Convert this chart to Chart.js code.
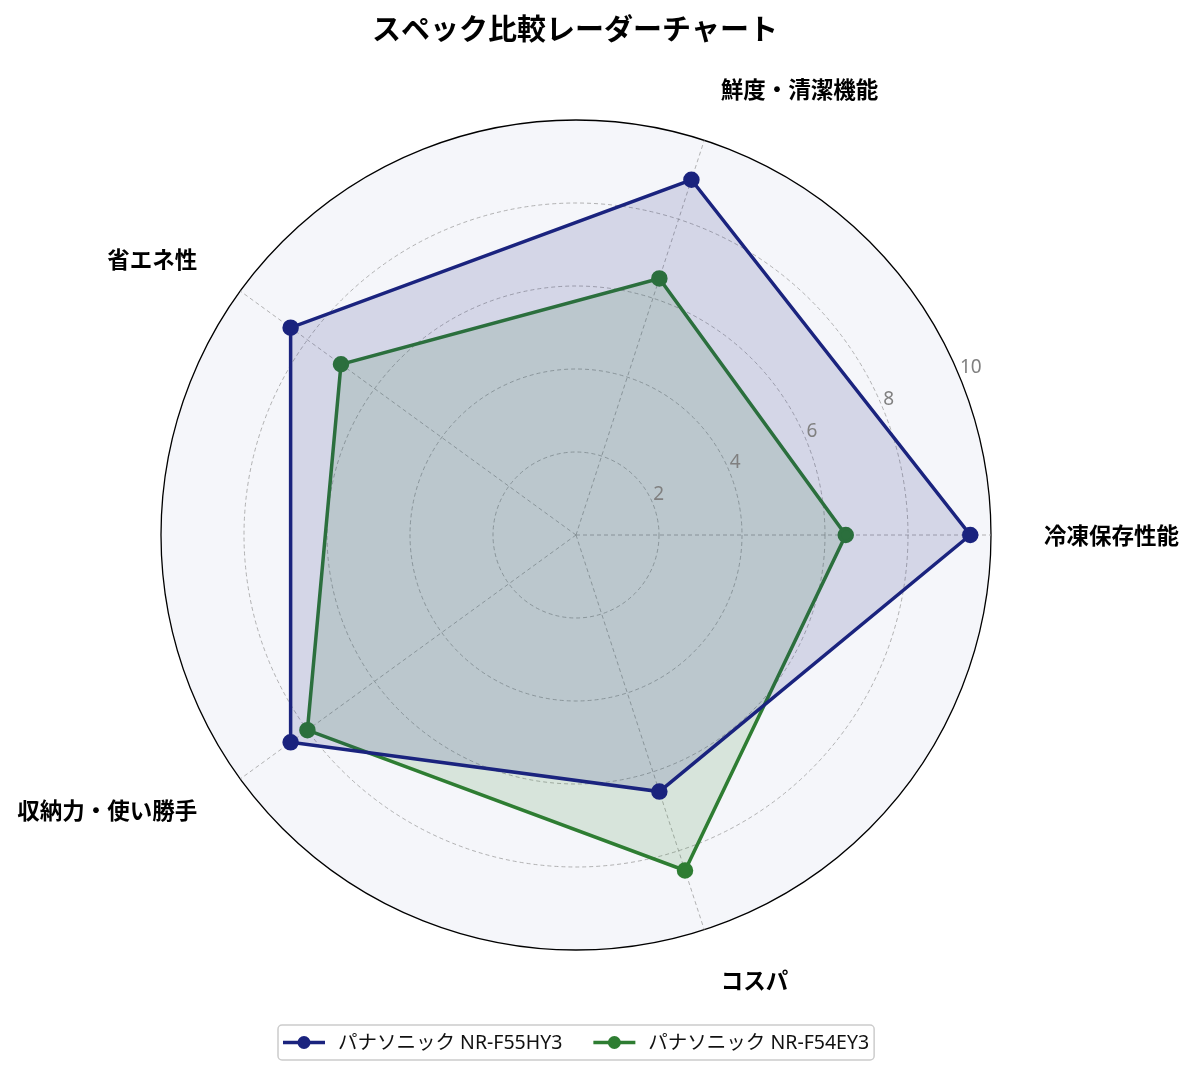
<!DOCTYPE html>
<html lang="ja">
<head>
<meta charset="utf-8">
<title>スペック比較レーダーチャート</title>
<script src="https://cdn.jsdelivr.net/npm/chart.js@4.4.1/dist/chart.umd.min.js"></script>
<style>
  html, body { margin: 0; padding: 0; background: #fff; }
  #wrap { position: relative; width: 1194px; height: 1075px; }
</style>
</head>
<body>
<div id="wrap"><canvas id="radar"></canvas></div>
<script>
// axes in the order they appear counter-clockwise from the right
const categories = ["冷凍保存性能", "鮮度・清潔機能", "省エネ性", "収納力・使い勝手", "コスパ"];
const seriesNames = ["パナソニック NR-F55HY3", "パナソニック NR-F54EY3"];
const f55hy3 = [9.5, 9.0, 8.5, 8.5, 6.5];
const f54ey3 = [6.5, 6.5, 7.0, 8.0, 8.5];
const tickValues = [2, 4, 6, 8, 10];

const NAVY = "#1a237e";
const GREEN = "#2e7d32";
const JP = "'Noto Sans CJK JP', 'Noto Sans', sans-serif";
const LATIN_JP = "'Noto Sans', 'Noto Sans CJK JP', sans-serif";

// Chart.js goes clockwise, so reverse the order after the first axis
function toClockwise(arr) {
  return [arr[0]].concat(arr.slice(1).reverse());
}

const labelsCw = toClockwise(categories);

// background disc, hand drawn tick labels, axis labels, title and legend
const radarDecor = {
  id: "radarDecor",
  beforeDraw(chart) {
    const r = chart.scales.r;
    const ctx = chart.ctx;
    ctx.save();
    ctx.fillStyle = "#f5f6fa";
    ctx.beginPath();
    ctx.arc(r.xCenter, r.yCenter, r.drawingArea, 0, Math.PI * 2);
    ctx.fill();
    ctx.restore();
  },
  afterDatasetsDraw(chart) {
    const r = chart.scales.r;
    const ctx = chart.ctx;
    ctx.save();
    // radial tick labels at 22.5 degrees
    const a = 22.5 * Math.PI / 180;
    ctx.font = "19px " + LATIN_JP;
    ctx.fillStyle = "#808080";
    ctx.textAlign = "left";
    ctx.textBaseline = "alphabetic";
    tickValues.forEach(v => {
      const d = r.getDistanceFromCenterForValue(v);
      ctx.fillText(String(v), r.xCenter + d * Math.cos(a) + 0.5, r.yCenter - d * Math.sin(a) - 3);
    });

    // axis labels outside the circle
    ctx.font = "bold 22.5px " + JP;
    ctx.fillStyle = "#000";
    ctx.textBaseline = "middle";
    const labelR = r.drawingArea * 1.128;
    categories.forEach((c, i) => {
      const ang = i * 2 * Math.PI / categories.length;
      const cx = Math.cos(ang);
      ctx.textAlign = Math.abs(cx) < 0.01 ? "center" : (cx > 0 ? "left" : "right");
      ctx.fillText(c, r.xCenter + labelR * cx, r.yCenter - labelR * Math.sin(ang));
    });

    // title
    ctx.font = "bold 29px " + JP;
    ctx.textAlign = "center";
    ctx.fillText("スペック比較レーダーチャート", 575, 29);

    // legend box
    ctx.font = "19.5px " + LATIN_JP;
    const colors = [NAVY, GREEN];
    const widths = seriesNames.map(n => ctx.measureText(n).width);
    const total = widths.reduce((s, w) => s + w, 0) + 2 * 55 + 31 + 10;
    const bx = Math.round(576 - total / 2);
    const by = 1025, bh = 35;
    ctx.strokeStyle = "#cccccc";
    ctx.lineWidth = 1.5;
    ctx.beginPath();
    ctx.roundRect(bx, by, total, bh, 4);
    ctx.fillStyle = "rgba(255,255,255,0.8)";
    ctx.fill();
    ctx.stroke();
    let x = bx + 5;
    const y = by + bh / 2;
    seriesNames.forEach((n, i) => {
      ctx.strokeStyle = colors[i];
      ctx.lineWidth = 3.5;
      ctx.beginPath();
      ctx.moveTo(x, y);
      ctx.lineTo(x + 42, y);
      ctx.stroke();
      ctx.fillStyle = colors[i];
      ctx.beginPath();
      ctx.arc(x + 21, y, 6.5, 0, Math.PI * 2);
      ctx.fill();
      ctx.fillStyle = "#111";
      ctx.textAlign = "left";
      ctx.fillText(n, x + 55, y + 1);
      x += 55 + widths[i] + 31;
    });
    ctx.restore();
  }
};

new Chart(document.getElementById("radar"), {
  type: "radar",
  data: {
    labels: labelsCw,
    datasets: [
      {
        label: seriesNames[0],
        data: toClockwise(f55hy3),
        borderColor: NAVY,
        backgroundColor: "rgba(26,35,126,0.15)",
        pointBackgroundColor: NAVY,
        pointBorderColor: NAVY,
        borderWidth: 3.5,
        pointRadius: 6.5,
        fill: true,
      },
      {
        label: seriesNames[1],
        data: toClockwise(f54ey3),
        borderColor: GREEN,
        backgroundColor: "rgba(46,125,50,0.15)",
        pointBackgroundColor: GREEN,
        pointBorderColor: GREEN,
        borderWidth: 3.5,
        pointRadius: 6.5,
        fill: true,
      },
    ],
  },
  options: {
    responsive: true,
    maintainAspectRatio: false,
    animation: false,
    layout: {padding: {left: 161, right: 203, top: 120, bottom: 125}},
    elements: {line: {tension: 0}},
    plugins: {
      legend: {display: false},
      title: {display: false},
      tooltip: {enabled: false},
    },
    scales: {
      r: {
        min: 0,
        max: 10,
        startAngle: 90,
        ticks: {stepSize: 2, display: false},
        pointLabels: {display: false},
        grid: {
          circular: true,
          color: ctx => (ctx.tick && ctx.tick.value === 10 ? "#000" : "#a0a0a0"),
          lineWidth: ctx => (ctx.tick && ctx.tick.value === 10 ? 1.3 : 0.8),
        },
        border: {
          dash: ctx => (ctx.tick && ctx.tick.value === 10 ? [] : [4, 3]),
        },
        angleLines: {
          color: "#a0a0a0",
          lineWidth: 0.8,
          borderDash: [4, 3],
        },
      },
    },
  },
  plugins: [radarDecor],
});
</script>
</body>
</html>
